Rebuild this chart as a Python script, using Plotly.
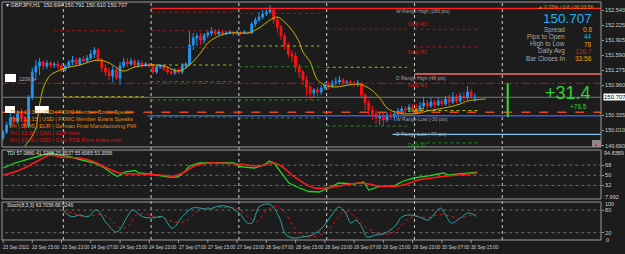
import plotly.graph_objects as go

# ---------------- data ----------------
bar_idx = list(range(130))
date_ticks = [0, 8, 16, 24, 32, 40, 48, 56, 64, 72, 80, 88, 96, 104, 112, 120, 128]
date_labels = ["23 Sep 2021", "23 Sep 15:00", "23 Sep 23:00", "24 Sep 07:00", "24 Sep 15:00",
               "24 Sep 23:00", "27 Sep 07:00", "27 Sep 15:00", "27 Sep 23:00", "28 Sep 07:00",
               "28 Sep 15:00", "28 Sep 23:00", "29 Sep 07:00", "29 Sep 15:00", "29 Sep 23:00",
               "30 Sep 07:00", "30 Sep 15:00"]
day_separators = [16.5, 40.5, 64.5, 88.5, 112.5, 136.5]

opens = [149.852, 149.978, 150.125, 150.272, 150.188, 150.356, 150.272, 150.104, 150.713, 151.238,
         151.364, 151.448, 151.364, 151.427, 151.385, 151.406, 151.364, 151.28, 151.364, 151.448,
         151.49, 151.406, 151.511, 151.469, 151.532, 151.616, 151.70, 151.49, 151.322, 151.238,
         151.154, 151.28, 151.112, 151.364, 151.448, 151.406, 151.469, 151.385, 151.427, 151.385,
         151.406, 151.364, 151.238, 151.343, 151.364, 151.301, 151.238, 151.217, 151.28, 151.238,
         151.364, 151.406, 151.805, 151.952, 151.994, 151.91, 152.015, 152.057, 152.099, 152.036,
         152.078, 152.036, 152.057, 152.078, 152.057, 152.078, 152.057, 152.078, 152.057, 152.246,
         152.33, 152.393, 152.456, 152.498, 152.54, 152.33, 152.183, 151.994, 151.805, 151.616,
         151.574, 151.343, 151.238, 151.07, 150.923, 150.797, 150.86, 150.818, 150.902, 150.965,
         150.944, 151.007, 151.028, 151.07, 151.007, 151.028, 151.007, 150.986, 151.007, 150.755,
         150.587, 150.44, 150.356, 150.272, 150.314, 150.23, 150.335, 150.293, 150.356, 150.419,
         150.461, 150.44, 150.503, 150.482, 150.44, 150.524, 150.587, 150.524, 150.608, 150.545,
         150.629, 150.566, 150.671, 150.608, 150.713, 150.629, 150.734, 150.692, 150.818, 150.694]
highs = [150.02, 150.188, 150.398, 150.335, 150.44, 150.482, 150.314, 150.755, 151.322, 151.49,
         151.532, 151.49, 151.49, 151.469, 151.448, 151.469, 151.427, 151.406, 151.49, 151.574,
         151.532, 151.553, 151.574, 151.595, 151.70, 151.763, 151.742, 151.532, 151.406, 151.322,
         151.364, 151.322, 151.448, 151.532, 151.532, 151.532, 151.511, 151.49, 151.469, 151.448,
         151.427, 151.406, 151.385, 151.406, 151.406, 151.364, 151.301, 151.322, 151.322, 151.427,
         151.448, 152.12, 152.057, 152.057, 152.057, 152.057, 152.12, 152.183, 152.141, 152.141,
         152.12, 152.099, 152.12, 152.099, 152.12, 152.099, 152.12, 152.099, 152.288, 152.393,
         152.498, 152.54, 152.582, 152.645, 152.582, 152.393, 152.225, 152.057, 151.868, 151.70,
         151.658, 151.406, 151.28, 151.154, 150.965, 150.902, 150.923, 150.965, 151.028, 151.028,
         151.07, 151.133, 151.154, 151.112, 151.07, 151.07, 151.049, 151.07, 151.028, 150.797,
         150.65, 150.524, 150.44, 150.398, 150.377, 150.398, 150.398, 150.419, 150.482, 150.524,
         150.524, 150.566, 150.566, 150.566, 150.608, 150.692, 150.65, 150.692, 150.65, 150.692,
         150.671, 150.734, 150.755, 150.818, 150.776, 150.797, 150.818, 150.944, 150.881, 150.791]
lows = [149.789, 149.936, 150.062, 150.104, 150.146, 150.188, 150.041, 150.062, 150.65, 151.07,
        151.175, 151.28, 151.301, 151.322, 151.322, 151.301, 151.238, 151.238, 151.322, 151.385,
        151.364, 151.364, 151.406, 151.427, 151.49, 151.532, 151.448, 151.238, 151.154, 151.07,
        151.028, 151.07, 150.965, 151.322, 151.343, 151.364, 151.322, 151.343, 151.322, 151.343,
        151.322, 151.196, 151.196, 151.301, 151.259, 151.196, 151.175, 151.175, 151.196, 151.196,
        151.301, 151.364, 151.70, 151.784, 151.805, 151.826, 151.952, 151.994, 151.994, 152.015,
        151.994, 152.015, 152.036, 151.994, 152.015, 152.015, 152.036, 152.036, 152.036, 152.183,
        152.288, 152.351, 152.414, 152.456, 152.246, 152.057, 151.91, 151.70, 151.553, 151.448,
        151.238, 151.112, 150.965, 150.734, 150.65, 150.692, 150.734, 150.755, 150.86, 150.881,
        150.902, 150.944, 150.965, 150.944, 150.965, 150.944, 150.923, 150.923, 150.692, 150.44,
        150.335, 150.23, 150.146, 150.125, 150.104, 150.188, 150.23, 150.209, 150.293, 150.335,
        150.377, 150.398, 150.44, 150.356, 150.398, 150.461, 150.44, 150.482, 150.482, 150.524,
        150.524, 150.524, 150.524, 150.566, 150.587, 150.587, 150.629, 150.65, 150.671, 150.610]
closes = [149.978, 150.125, 150.272, 150.188, 150.356, 150.272, 150.104, 150.713, 151.238, 151.364,
          151.448, 151.364, 151.427, 151.385, 151.406, 151.364, 151.28, 151.364, 151.448, 151.49,
          151.406, 151.511, 151.469, 151.532, 151.616, 151.70, 151.49, 151.322, 151.238, 151.154,
          151.28, 151.112, 151.364, 151.448, 151.406, 151.469, 151.385, 151.427, 151.385, 151.406,
          151.364, 151.238, 151.343, 151.364, 151.301, 151.238, 151.217, 151.28, 151.238, 151.364,
          151.406, 151.805, 151.952, 151.994, 151.91, 152.015, 152.057, 152.099, 152.036, 152.078,
          152.036, 152.057, 152.078, 152.057, 152.078, 152.057, 152.078, 152.057, 152.246, 152.33,
          152.393, 152.456, 152.498, 152.54, 152.33, 152.183, 151.994, 151.805, 151.616, 151.574,
          151.343, 151.238, 151.07, 150.923, 150.797, 150.86, 150.818, 150.902, 150.965, 150.944,
          151.007, 151.028, 151.07, 151.007, 151.028, 151.007, 150.986, 151.007, 150.755, 150.587,
          150.44, 150.356, 150.272, 150.314, 150.23, 150.335, 150.293, 150.356, 150.419, 150.461,
          150.44, 150.503, 150.482, 150.44, 150.524, 150.587, 150.524, 150.608, 150.545, 150.629,
          150.566, 150.671, 150.608, 150.713, 150.629, 150.734, 150.692, 150.818, 150.734, 150.707]

ma_idx = [6, 8, 9, 10, 11, 12, 13, 15, 17, 21, 26, 29, 33, 36, 40, 44, 48, 51, 54, 56, 59, 62, 65, 67,
          70, 73, 75, 77, 79, 81, 82, 84, 85, 86, 88, 91, 93, 97, 100, 103, 105, 108, 111, 114, 116,
          119, 122, 125, 127, 132]
ma_val = [149.684, 149.894, 150.062, 150.545, 150.902, 151.07, 151.175, 151.259, 151.322, 151.385,
          151.49, 151.427, 151.259, 151.343, 151.385, 151.364, 151.259, 151.385, 151.637, 151.847,
          151.994, 152.057, 152.057, 152.057, 152.162, 152.33, 152.393, 152.288, 152.12, 151.868,
          151.658, 151.448, 151.238, 151.07, 150.965, 150.923, 150.944, 150.986, 150.902, 150.692,
          150.482, 150.377, 150.356, 150.377, 150.419, 150.461, 150.503, 150.566, 150.629, 150.671]

price_ticks = [152.540, 152.225, 151.905, 151.590, 151.275, 150.960, 150.335, 150.010, 149.690]
last_price = 150.707

# horizontal levels: price, start bar, end bar
level_names = ["W Range High", "D Range High", "D Range Low", "Weekly P", "Daily R1 line", "Bid",
               "W Range Low"]
level_price = [152.576, 151.196, 149.928, 150.391, 151.000, 150.707, 150.320]
level_start = [40.5, 112.5, 106.5, -1, -1, -1, 39.5]
level_end = [164, 164, 164, 164, 164, 164, 164]

# per-day pivot segments: (start bar, end bar) and levels
pivot_start = [40.5, 40.5, 40.5, 40.5, 40.5, 40.5, 40.5, 64.5, 64.5, 64.5, 64.5, 64.5,
               88.5, 88.5, 88.5, 112.5, 112.5, 112.5, 112.5, 14.0, 16.5]
pivot_end = [62.5, 62.5, 62.5, 62.5, 62.5, 62.5, 62.5, 86.5, 86.5, 86.5, 86.5, 86.5,
             110.5, 110.5, 110.5, 130.0, 130.0, 130.0, 130.0, 33.0, 38.5]
pivot_price = [152.492, 152.105, 151.748, 151.385, 151.034, 150.650, 150.293, 152.471, 151.784,
               151.349, 150.650, 150.272, 152.135, 151.337, 150.104, 152.135, 151.763, 150.429,
               149.750, 152.105, 150.720]
pivot_kind = ["R", "R", "R", "P", "S", "S", "S", "R", "P", "S", "S", "S", "R", "P", "S", "R", "R",
              "P", "S", "R", "P"]

# TDI
tdi_green_idx = [0, 3.3, 6, 8.7, 12.8, 15.5, 18.3, 21, 25, 27.8, 29.2, 31.3, 33.2, 36, 37.3, 40, 42.8,
                 45.5, 47.7, 49.6, 51, 53.7, 57.8, 63.2, 64.6, 68.7, 71.4, 72.8, 74.1, 75.5, 78.2, 81,
                 83.7, 86.4, 89.1, 91.8, 96, 98.6, 100, 102.7, 106.8, 109.5, 112.3, 116.3, 120.4,
                 121.8, 124.5, 127.2, 129.7]
tdi_green = [62.9, 71.8, 77.1, 82.4, 89.5, 86.0, 83.0, 78.0, 71.8, 62.9, 55.8, 47.9, 55.8, 58.5, 54.1,
             52.3, 49.6, 47.0, 47.0, 55.8, 66.5, 71.8, 72.3, 71.8, 65.2, 62.9, 68.3, 75.3, 71.8, 59.4,
             36.3, 27.5, 21.3, 20.4, 27.5, 36.3, 34.6, 38.1, 23.9, 29.8, 31.0, 39.9, 45.2, 48.8, 54.1,
             50.5, 52.3, 54.1, 55.8]
tdi_red_idx = [0, 4.6, 10, 12.8, 15.5, 21, 25, 27.8, 31.9, 37.3, 42.8, 46.9, 49.6, 52.3, 56.4, 59.1,
               64.6, 70, 74.1, 76.8, 79.6, 82.3, 85, 87.7, 91.8, 97.3, 100, 102.7, 106.8, 109.5,
               113.6, 119, 124.5, 129.7]
tdi_red = [50.5, 59.4, 77.1, 86.0, 82.4, 80.7, 73.6, 64.7, 54.1, 52.3, 50.5, 48.8, 55.8, 66.5, 71.8,
           71.8, 70.0, 66.5, 71.8, 62.9, 47.5, 36.3, 27.5, 27.5, 31.0, 36.3, 34.6, 31.0, 30.2, 32.8,
           41.7, 47.0, 50.5, 54.1]
tdi_levels = [68, 50, 32]
tdi_ticks = [94.8389, 68, 50, 32, 7.992]

# Stochastic
stoch_main_idx = [16.3, 18.8, 21, 23.2, 25.6, 28.3, 31.1, 34, 35.4, 38.2, 40.9, 43.6, 46.3, 49, 51.8,
                  53.7, 56.4, 59.1, 61.9, 64.6, 66.8, 68.1, 70, 72, 73.3, 75.5, 77.4, 79.6, 81.7, 84.5,
                  87.2, 89.9, 91.8, 93.7, 95.1, 96.5, 98.1, 99.5, 101.9, 104.6, 107.4, 109, 110.9,
                  113.6, 116.3, 117.7, 119.6, 121, 122.6, 125.1, 127.2, 129.4]
stoch_main = [80.2, 62.4, 66.9, 62.4, 80.2, 45.8, 22.0, 62.4, 80.2, 62.4, 59.0, 62.4, 32.3, 62.4, 85.4,
              85.4, 82.8, 90.7, 88.1, 72.2, 45.8, 45.8, 88.1, 96.0, 93.4, 61.6, 14.0, 6.1, 8.7, 14.0,
              32.3, 66.9, 88.1, 72.2, 45.8, 53.4, 35.2, 8.7, 14.0, 19.3, 40.0, 61.6, 66.9, 62.4, 53.4,
              66.9, 85.4, 66.9, 45.8, 59.0, 72.2, 63.7]
stoch_sig_idx = [16.3, 19, 21.5, 24, 26.5, 29, 31.5, 34, 36.5, 39, 41.5, 44, 47, 50, 52.5, 55, 58, 61,
                 64, 67, 69.5, 72, 74.5, 77, 79.5, 82, 85, 88, 90.5, 93, 95.5, 97.5, 100, 102.5, 105,
                 108, 110.5, 113, 116, 119, 122, 124.5, 127, 129.4]
stoch_sig = [78, 72, 64, 65, 68, 60, 35, 35, 68, 70, 62, 58, 48, 50, 72, 85, 86, 87, 84, 62, 50, 78,
             90, 75, 35, 12, 10, 20, 45, 75, 68, 50, 30, 18, 15, 30, 55, 64, 60, 68, 65, 58, 64, 68.5]
stoch_levels = [80, 20]
stoch_ticks = [100, 80, 20, 0]

news_rows = ["Thu | 12:30 | USD | FOMC Member Bostic Speaks",
             "Thu | 13:15 | USD | FOMC Member Evans Speaks",
             "Fri | 06:45 | EUR | German Final Manufacturing PMI",
             "Fri | 12:30 | CAD | GDP m/m",
             "Fri | 13:30 | USD | Core PCE Price Index m/m"]
news_impact = ["mid", "mid", "mid", "high", "high"]

info_labels = ["Spread", "Pips to Open", "High to Low", "Daily Avg", "Bar Closes In"]
info_values = ["0.6", "44", "78", "126.7", "33:56"]
info_kind = ["o", "b", "o", "r", "o"]
pips_today = "+31.4"
pips_sub = "+76.5"
day_bar_idx = 138
day_bar = [151.00, 150.29]

pivot_labels = ["W Range High (186 pts)", "Daily R3", "Daily R2", "D Range High (48 pts)", "Daily R1",
                "Daily P", "W Range Low (-30 pts)", "D Range Low (-77 pts)", "Daily S1"]
pivot_label_price = [152.525, 152.245, 151.655, 151.110, 150.965, 150.430, 150.260, 149.928, 149.705]
pivot_label_kind = ["g", "r", "r", "g", "r", "y", "g", "g", "s"]
pivot_label_bar = [106.8, 110.3, 110.3, 106.8, 110.3, 110.3, 106.8, 106.8, 110.3]

marker_label = "1209 tx"

# ---------------- styling ----------------
W, H = 625, 254
ML, MR, MT, MB = 2, 22, 0, 14
PH = H - MT - MB
PW = W - ML - MR
BG = '#1c1c1c'
FONT = 'Liberation Sans'


def fy(px):
    return 1 - (px - MT) / PH


def fx(px):
    return (px - ML) / PW


main_dom = [fy(147), fy(2)]
tdi_dom = [fy(199), fy(150)]
sto_dom = [fy(240), fy(202)]

fig = go.Figure()

fig.add_trace(go.Candlestick(
    x=bar_idx, open=opens, high=highs, low=lows, close=closes,
    increasing=dict(line=dict(color='#2196f3', width=1), fillcolor='#2196f3'),
    decreasing=dict(line=dict(color='#ff1010', width=1), fillcolor='#ff1010'),
    whiskerwidth=0, showlegend=False, hoverinfo='skip', xaxis='x', yaxis='y'))

fig.add_trace(go.Scatter(x=ma_idx, y=ma_val, mode='lines', line=dict(color='#c8b400', width=1),
                         line_shape='spline', showlegend=False, hoverinfo='skip', xaxis='x', yaxis='y'))

level_style = {"W Range High": ('#ff2020', 'solid', 1.3),
               "D Range High": ('#ff6b6b', 'solid', 1.3),
               "D Range Low": ('#7fc6f0', 'solid', 1.3),
               "Weekly P": ('#e04a10', 'dash', 1.5),
               "Daily R1 line": ('#b01818', 'dashdot', 1),
               "Bid": ('#7a7a7a', 'solid', 1),
               "W Range Low": ('#3b5bd6', 'solid', 1.5)}
for n, p, s, e in zip(level_names, level_price, level_start, level_end):
    c, d, w = level_style[n]
    fig.add_trace(go.Scatter(x=[s, e], y=[p, p], mode='lines', line=dict(color=c, dash=d, width=w),
                             showlegend=False, hoverinfo='skip', xaxis='x', yaxis='y'))

pk_col = {"R": '#a01818', "P": '#b4b400', "S": '#1f8f1f'}
for s, e, p, k in zip(pivot_start, pivot_end, pivot_price, pivot_kind):
    fig.add_trace(go.Scatter(x=[s, e], y=[p, p], mode='lines',
                             line=dict(color=pk_col[k], dash='dot', width=1),
                             showlegend=False, hoverinfo='skip', xaxis='x', yaxis='y'))

fig.add_trace(go.Scatter(x=[day_bar_idx, day_bar_idx], y=day_bar, mode='lines',
                         line=dict(color='#2ee02e', width=2), showlegend=False, hoverinfo='skip',
                         xaxis='x', yaxis='y'))

# TDI
for lv in tdi_levels:
    fig.add_trace(go.Scatter(x=[-1, 164], y=[lv, lv], mode='lines',
                             line=dict(color='#6e6e6e', dash='dot', width=1),
                             showlegend=False, hoverinfo='skip', xaxis='x', yaxis='y2'))
fig.add_trace(go.Scatter(x=tdi_green_idx, y=tdi_green, mode='lines', line=dict(color='#22d322', width=1.3),
                         showlegend=False, hoverinfo='skip', xaxis='x', yaxis='y2'))
fig.add_trace(go.Scatter(x=tdi_red_idx, y=tdi_red, mode='lines', line=dict(color='#ff1a1a', width=1.5),
                         line_shape='spline', showlegend=False, hoverinfo='skip', xaxis='x', yaxis='y2'))

# Stoch
for lv in stoch_levels:
    fig.add_trace(go.Scatter(x=[-1, 164], y=[lv, lv], mode='lines',
                             line=dict(color='#6e6e6e', dash='dot', width=1),
                             showlegend=False, hoverinfo='skip', xaxis='x', yaxis='y3'))
fig.add_trace(go.Scatter(x=stoch_sig_idx, y=stoch_sig, mode='lines',
                         line=dict(color='#d01818', dash='dot', width=1), line_shape='spline',
                         showlegend=False, hoverinfo='skip', xaxis='x', yaxis='y3'))
fig.add_trace(go.Scatter(x=stoch_main_idx, y=stoch_main, mode='lines',
                         line=dict(color='#2aa6a6', width=1), line_shape='spline',
                         showlegend=False, hoverinfo='skip', xaxis='x', yaxis='y3'))

tickfont = dict(family=FONT, size=5.5, color='#d0d0d0')
fig.update_layout(
    width=W, height=H, margin=dict(l=ML, r=MR, t=MT, b=MB),
    paper_bgcolor=BG, plot_bgcolor=BG, showlegend=False,
    xaxis=dict(domain=[0, 1], range=[-0.27, 163.5], anchor='y3', showticklabels=False,
               showgrid=False, zeroline=False, rangeslider=dict(visible=False), fixedrange=True),
    yaxis=dict(domain=main_dom, range=[149.663, 152.708], side='right', anchor='x',
               tickvals=price_ticks, ticktext=[f"{v:.3f}" for v in price_ticks],
               tickfont=tickfont, ticks='outside', ticklen=2, tickcolor='#9a9a9a',
               showgrid=False, zeroline=False),
    yaxis2=dict(domain=tdi_dom, range=[7.992, 94.8389], side='right', anchor='x',
                tickvals=tdi_ticks[1:4], ticktext=["68", "50", "32"],
                tickfont=tickfont, ticks='outside', ticklen=2, tickcolor='#9a9a9a',
                showgrid=False, zeroline=False),
    yaxis3=dict(domain=sto_dom, range=[0.8, 101.3], side='right', anchor='x',
                tickvals=stoch_ticks[1:3], ticktext=["80", "20"],
                tickfont=tickfont, ticks='outside', ticklen=2, tickcolor='#9a9a9a',
                showgrid=False, zeroline=False),
)

shapes = []
for dom in (main_dom, tdi_dom, sto_dom):
    shapes.append(dict(type='rect', xref='paper', yref='paper', x0=0, x1=1, y0=dom[0], y1=dom[1],
                       line=dict(color='#9a9a9a', width=1), layer='above'))
for sx in day_separators:
    shapes.append(dict(type='line', xref='x', yref='paper', x0=sx, x1=sx, y0=0, y1=main_dom[1],
                       line=dict(color='#cfcfcf', width=1, dash='dot'), layer='below'))
# small date-axis tick marks
for t in date_ticks:
    shapes.append(dict(type='line', xref='x', yref='paper', x0=t, x1=t, y0=0, y1=-0.012,
                       line=dict(color='#9a9a9a', width=1)))
# white chart-object boxes on the left, and the chart-shift box at bottom right of price panel
for x0, x1, y0, y1 in [(5, 16, 74, 82), (5, 15, 106, 113), (35, 49, 106, 113)]:
    shapes.append(dict(type='rect', xref='paper', yref='paper', x0=fx(x0), x1=fx(x1), y0=fy(y1),
                       y1=fy(y0), fillcolor='#ffffff', line=dict(width=0), layer='above'))
shapes.append(dict(type='rect', xref='paper', yref='paper', x0=fx(594), x1=fx(603), y0=fy(147),
                   y1=fy(140), fillcolor='#8a8a8a', line=dict(width=0), layer='above'))
fig.update_layout(shapes=shapes)

ann = []
axfont = dict(family=FONT, size=5.5, color='#d0d0d0')
for t, lab in zip(date_ticks, date_labels):
    ann.append(dict(x=t, y=0, xref='x', yref='paper', text=lab, showarrow=False, xanchor='left',
                    yanchor='top', yshift=-3, xshift=-2,
                    font=dict(family=FONT, size=4.6, color='#d0d0d0')))

# edge labels of the TDI and Stoch scales
ann.append(dict(x=1, y=fy(152.5), xref='paper', yref='paper', text=f"{tdi_ticks[0]:.4f}",
                showarrow=False, xanchor='left', yanchor='middle', xshift=1, font=axfont))
ann.append(dict(x=1, y=fy(196.5), xref='paper', yref='paper', text=f"{tdi_ticks[-1]:.3f}",
                showarrow=False, xanchor='left', yanchor='middle', xshift=2, font=axfont))
ann.append(dict(x=1, y=fy(203.5), xref='paper', yref='paper', text=str(stoch_ticks[0]),
                showarrow=False, xanchor='left', yanchor='middle', xshift=2, font=axfont))
ann.append(dict(x=1, y=fy(239.5), xref='paper', yref='paper', text=str(stoch_ticks[-1]),
                showarrow=False, xanchor='left', yanchor='middle', xshift=3, font=axfont))

ann.append(dict(x=1, y=last_price, xref='paper', yref='y', text=f"{last_price:.3f}", showarrow=False,
                xanchor='left', xshift=2, bgcolor='#ffffff', borderpad=0,
                font=dict(family=FONT, size=6, color='#000000')))
ann.append(dict(x=fx(598.5), y=fy(143.5), xref='paper', yref='paper', text="▲", showarrow=False,
                xanchor='center', yanchor='middle', font=dict(family=FONT, size=5, color='#ff2020')))

title = f"▾ GBPJPY,H1  {opens[-1]:.3f} {highs[-1]:.3f} {lows[-1]:.3f} {closes[-1]:.3f}"
ann.append(dict(x=0.003, y=fy(5), xref='paper', yref='paper', text=title, showarrow=False,
                xanchor='left', yanchor='middle', font=dict(family=FONT, size=5.5, color='#e0e0e0')))
ann.append(dict(x=fx(17), y=fy(79), xref='paper', yref='paper', text=marker_label, showarrow=False,
                xanchor='left', yanchor='middle', font=dict(family=FONT, size=5, color='#b0b0b0')))

news_col = {"mid": '#e8870a', "high": '#e01010'}
for i, (row, imp) in enumerate(zip(news_rows, news_impact)):
    ann.append(dict(x=fx(8), y=fy(111.5 + 7 * i), xref='paper', yref='paper', text=row,
                    showarrow=False, xanchor='left', yanchor='middle',
                    font=dict(family=FONT, size=5.5, color=news_col[imp])))

info_col = {"o": '#f0a000', "b": '#1fb0f5', "r": '#e01010'}
ann.append(dict(x=fx(596), y=fy(18.5), xref='paper', yref='paper', text=f"{last_price:.3f}",
                showarrow=False, xanchor='right', yanchor='middle',
                font=dict(family=FONT, size=13.5, color='#1fb0f5')))
for i, (lab, val, k) in enumerate(zip(info_labels, info_values, info_kind)):
    yy = fy(29.8 + 7.1 * i)
    ann.append(dict(x=fx(569), y=yy, xref='paper', yref='paper', text=lab, showarrow=False,
                    xanchor='right', yanchor='middle', font=dict(family=FONT, size=6.5, color='#a8a8a8')))
    ann.append(dict(x=fx(596), y=yy, xref='paper', yref='paper', text=val, showarrow=False,
                    xanchor='right', yanchor='middle', font=dict(family=FONT, size=6.5, color=info_col[k])))
ann.append(dict(x=fx(597), y=fy(6.5), xref='paper', yref='paper',
                text="▲ 0.25% / 0.6 / 00:33:56", showarrow=False, xanchor='right', yanchor='middle',
                font=dict(family=FONT, size=5, color='#e8870a')))
ann.append(dict(x=fx(595), y=fy(93), xref='paper', yref='paper', text=pips_today,
                showarrow=False, xanchor='right', yanchor='middle',
                font=dict(family=FONT, size=18, color='#32d132')))
ann.append(dict(x=fx(591), y=fy(106), xref='paper', yref='paper', text=pips_sub,
                showarrow=False, xanchor='right', yanchor='middle',
                font=dict(family=FONT, size=6.5, color='#32d132')))

plk_col = {"g": '#a0a0a0', "r": '#e01010', "y": '#c8b400', "s": '#1f9f1f'}
for lab, p, k, b in zip(pivot_labels, pivot_label_price, pivot_label_kind, pivot_label_bar):
    ann.append(dict(x=b, y=p, xref='x', yref='y', text=lab, showarrow=False, xanchor='left',
                    yanchor='middle', font=dict(family=FONT, size=5, color=plk_col[k])))

ann.append(dict(x=fx(5), y=fy(152.5), xref='paper', yref='paper',
                text="TDI 57.0880 41.3208 25.5537 55.6065 53.3056", showarrow=False, xanchor='left',
                yanchor='middle', font=dict(family=FONT, size=5, color='#e0e0e0')))
ann.append(dict(x=fx(5), y=fy(204.5), xref='paper', yref='paper',
                text="Stoch(8,3,3) 63.7056 68.5246", showarrow=False, xanchor='left',
                yanchor='middle', font=dict(family=FONT, size=5, color='#e0e0e0')))
fig.update_layout(annotations=ann)

fig.write_html("out.html", include_plotlyjs=True, config={'displayModeBar': False})
